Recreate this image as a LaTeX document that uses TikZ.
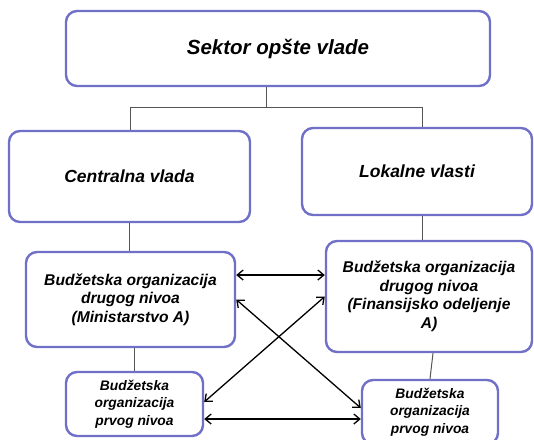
\documentclass[tikz,border=0pt]{standalone}
\usepackage{fontspec}
\setmainfont{Liberation Sans}
\usetikzlibrary{arrows.meta,calc}
\definecolor{bordc}{RGB}{112,112,200}
\definecolor{connc}{RGB}{85,85,85}
\begin{document}
\begin{tikzpicture}[x=1pt,y=1pt,
 box/.style={draw=bordc,line width=2.4pt,rounded corners=11pt,fill=white,inner sep=0pt,align=center},
 fA/.style={font=\fontsize{20.5}{24}\selectfont\bfseries\itshape},
 fB/.style={font=\fontsize{17.5}{21}\selectfont\bfseries\itshape},
 fC/.style={font=\fontsize{15.6}{18.5}\selectfont\bfseries\itshape},
 fD/.style={font=\fontsize{13.8}{17.3}\selectfont\bfseries\itshape},
 conn/.style={draw=connc,line width=1pt},
 arr/.style={draw=black,line width=1.3pt,{Straight Barb[length=6pt,width=10pt]}-{Straight Barb[length=6pt,width=10pt]}}]
\useasboundingbox (0,0) rectangle (534,-439);
\clip (0,0) rectangle (534,-439);
\node[box,fA,minimum width=424pt,minimum height=75pt] (top) at (278,-48.5) {Sektor opšte vlade};
\node[box,fB,minimum width=241pt,minimum height=91pt] (cv) at (129.5,-176.5) {Centralna vlada};
\node[box,fB,minimum width=230pt,minimum height=87pt] (lv) at (417,-171.5) {Lokalne vlasti};
\node[box,fC,minimum width=209pt,minimum height=95pt] (l2) at (130.5,-299.5) {Budžetska organizacija\\drugog nivoa\\(Ministarstvo A)};
\node[box,fC,minimum width=206pt,minimum height=111pt] (r2) at (429,-296.5) {Budžetska organizacija\\drugog nivoa\\(Finansijsko odeljenje\\A)};
\node[box,fD,minimum width=137pt,minimum height=64pt] (l1) at (134.5,-404) {Budžetska\\organizacija\\prvog nivoa};
\node[box,fD,minimum width=136pt,minimum height=64pt] (r1) at (430,-412) {Budžetska\\organizacija\\prvog nivoa};
% tree connectors
\coordinate (j) at (266,-107);
\coordinate (jl) at (130,-107);
\coordinate (jr) at (422,-107);
\draw[conn] (j |- top.south) -- (j);
\draw[conn] (jl) -- (jr);
\draw[conn] (jl) -- (jl |- cv.north);
\draw[conn] (jr) -- (jr |- lv.north);
\draw[conn] (cv.south) -- (cv.south |- l2.north);
\draw[conn] (jr |- lv.south) -- (jr |- r2.north);
\draw[conn] (l1.north |- l2.south) -- (l1.north);
\draw[conn] ($(r2.south)+(4,0)$) -- (r1.north);
% arrows
\draw[arr] (l2.east |- 0,-275) -- (r2.west |- 0,-275);
\draw[arr] (l2.east) -- (r1.west |- 0,-408);
\draw[arr] (l1.east |- 0,-402) -- (r2.west);
\draw[arr] (l1.east |- 0,-419) -- (r1.west |- 0,-419);
\end{tikzpicture}
\end{document}
